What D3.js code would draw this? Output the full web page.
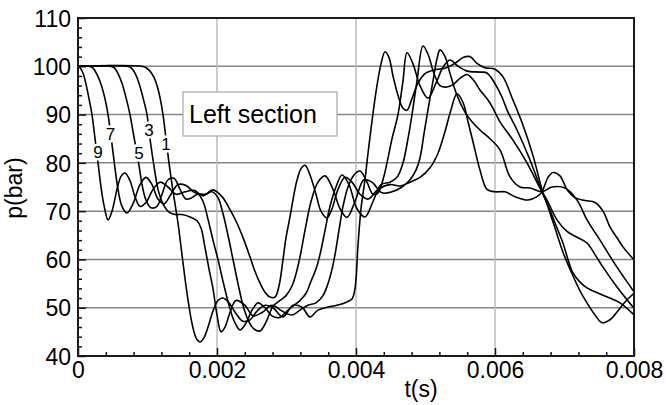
<!DOCTYPE html>
<html><head><meta charset="utf-8">
<script src="https://cdn.jsdelivr.net/npm/d3@7"></script>
<style>body{margin:0;background:#fff}svg{display:block}text{font-family:"Liberation Sans",Arial,sans-serif}</style>
</head><body><svg id="c" width="666" height="405"></svg>
<script>
// ---- data (t in seconds, p in bar) ----
const t9=[0,0.000029,0.000072,0.000115,0.000158,0.000201,0.000245,0.000288,0.000331,0.000374,0.000432,0.000489,0.000561,0.000619,0.000676,0.000748,0.000820,0.000892,0.000978,0.001079,0.001180,0.001295,0.001410,0.001540,0.001669,0.001799,0.001942,0.002072,0.002187,0.002288,0.002388,0.002475,0.002547,0.002619,0.002691,0.002763,0.002835,0.002892,0.002950,0.002993,0.003050,0.003108,0.003151,0.003209,0.003266,0.003338,0.003424,0.003496,0.003583,0.003655,0.003741,0.003842,0.003942,0.004058,0.004173,0.004317,0.004489,0.004633,0.004777,0.004921,0.005065,0.005180,0.005281,0.005367,0.005453,0.005540,0.005612,0.005698,0.005784,0.005885,0.006000,0.006144,0.006288,0.006475,0.006604,0.006676,0.006763,0.006835,0.006935,0.007036,0.007151,0.007295,0.007439,0.007554,0.007655,0.007755,0.007842,0.008000];
const p9=[100,99.7,98.6,96.3,93.3,90,85,80,75,71.2,68.2,70,74.5,77.2,77.9,76.3,73,71,71.8,74.5,76,75,73.5,74,74.3,73.2,74.4,73,70.3,67.5,64,60.5,57.5,55.1,53.2,52.2,52.2,54.5,60,64.5,68.8,73.5,76.4,78.8,79.5,77.5,73.5,70,68.6,70.5,74.5,77,76,73.5,72.5,74.5,75.5,75.2,76,77,79,82,86.5,91,94.3,92.5,88.5,83.5,78.5,74.5,74,74,73,72.3,73,74,77,78,77.3,74.5,72.8,72.2,71.8,70,66.7,64.5,62.6,59.9];

const t7=[0,0.000158,0.000216,0.000273,0.000331,0.000388,0.000432,0.000475,0.000518,0.000576,0.000633,0.000705,0.000791,0.000892,0.000978,0.001065,0.001151,0.001237,0.001338,0.001439,0.001554,0.001683,0.001827,0.001928,0.002014,0.002086,0.002158,0.002230,0.002302,0.002374,0.002446,0.002532,0.002619,0.002705,0.002806,0.002906,0.002993,0.003079,0.003137,0.003194,0.003266,0.003353,0.003453,0.003554,0.003669,0.003770,0.003871,0.003986,0.004115,0.004230,0.004374,0.004518,0.004662,0.004777,0.004863,0.004921,0.004978,0.005036,0.005108,0.005165,0.005209,0.005281,0.005353,0.005453,0.005568,0.005669,0.005784,0.005928,0.006072,0.006216,0.006360,0.006504,0.006676,0.006820,0.007007,0.007180,0.007324,0.007511,0.007755,0.008000];
const p7=[100,100,99.6,98.3,96.3,93.3,90,85.5,80.5,74.5,71,69.6,71.5,75.5,77,75.5,72.5,71.5,73.5,75.5,75.3,73.8,73.5,74,72.8,69.5,65,60,55,50.5,47.5,45.6,45.2,47,50.3,51.5,52.5,54.5,57,60.5,66,72,76,77.3,74.5,70.5,68.7,72,76.5,76,73.8,74,75,76.5,78.5,81,86,91,97,101.5,103.4,102,98.5,94,90.5,88.5,86.8,85,82.7,77.1,75,74.8,74,75,74.8,72.3,68.2,64,58.4,53.3];

const t5=[0,0.000460,0.000518,0.000576,0.000633,0.000691,0.000748,0.000791,0.000835,0.000878,0.000921,0.000978,0.001050,0.001137,0.001209,0.001295,0.001381,0.001468,0.001554,0.001640,0.001727,0.001799,0.001871,0.001942,0.002014,0.002086,0.002173,0.002245,0.002331,0.002417,0.002504,0.002590,0.002691,0.002791,0.002906,0.003007,0.003108,0.003194,0.003281,0.003353,0.003424,0.003482,0.003554,0.003626,0.003712,0.003799,0.003899,0.004014,0.004129,0.004245,0.004360,0.004489,0.004590,0.004676,0.004748,0.004806,0.004878,0.004964,0.005036,0.005122,0.005209,0.005309,0.005396,0.005496,0.005597,0.005698,0.005784,0.005928,0.006072,0.006259,0.006460,0.006676,0.006748,0.006892,0.007036,0.007180,0.007324,0.007439,0.007554,0.007755,0.008000];
const p5=[100,100,99.7,98.5,96.5,93.5,90,86.5,83,79.5,75.5,72.3,70.7,71,73.5,76.5,76.8,74.5,72.5,72.8,73.5,72,68.3,64,60,55.5,50.5,47.3,45.4,46.8,49.5,51,50,48.3,48,49.3,50.5,51.5,53,55.5,58,61,66,71,75,77.5,75.5,70.5,68.8,72,75.5,76,77,80,85,90,97,104.2,102.5,98.5,96,95.7,96.2,97.5,98.3,97,95.1,92.4,88.5,84.7,80,74,72.3,68.2,65.8,64.6,63.4,61,58.4,54.3,49.9];

const t3=[0,0.000705,0.000763,0.000820,0.000878,0.000935,0.000993,0.001022,0.001065,0.001108,0.001151,0.001223,0.001309,0.001396,0.001496,0.001612,0.001712,0.001770,0.001827,0.001885,0.001942,0.002000,0.002058,0.002115,0.002187,0.002273,0.002403,0.002518,0.002647,0.002791,0.002935,0.003079,0.003194,0.003309,0.003424,0.003525,0.003597,0.003655,0.003698,0.003755,0.003813,0.003885,0.003971,0.004058,0.004158,0.004245,0.004317,0.004388,0.004446,0.004518,0.004604,0.004676,0.004734,0.004820,0.004921,0.005036,0.005151,0.005252,0.005353,0.005468,0.005597,0.005784,0.005885,0.006072,0.006187,0.006317,0.006504,0.006676,0.006791,0.006878,0.006978,0.007050,0.007122,0.007223,0.007324,0.007439,0.007554,0.007799,0.008000];
const p3=[100,100,99.7,98.6,96.5,93.5,90,86.5,82,78,74.5,71.5,69.8,69.3,69.3,68.8,68,66.5,62.5,58,54,48.5,45,46,49,51.5,50.5,48.3,49,50.5,49.3,48.5,49.5,50.5,51,52.5,55,58,61,66,71,75,77.5,78.3,76,73.5,73.8,76.5,80,85,90,97,102.8,100.5,96,93.4,96.5,99.8,101.3,100,99,98.8,98.6,94.5,90.5,86.8,80.6,74,70.2,67,63.4,60,57.2,55.3,54.1,53.3,52.6,51,48.5];

const t1=[0,0.000921,0.000978,0.001036,0.001094,0.001137,0.001180,0.001223,0.001266,0.001309,0.001353,0.001396,0.001439,0.001496,0.001540,0.001583,0.001626,0.001669,0.001712,0.001755,0.001813,0.001871,0.001942,0.002014,0.002086,0.002173,0.002273,0.002374,0.002475,0.002576,0.002691,0.002806,0.002950,0.003094,0.003223,0.003338,0.003453,0.003583,0.003727,0.003871,0.003942,0.003986,0.004029,0.004072,0.004129,0.004173,0.004245,0.004302,0.004360,0.004417,0.004475,0.004532,0.004604,0.004676,0.004734,0.004806,0.004892,0.004993,0.005137,0.005281,0.005424,0.005540,0.005640,0.005741,0.005856,0.006000,0.006115,0.006259,0.006403,0.006547,0.006676,0.006748,0.006863,0.006978,0.007079,0.007223,0.007324,0.007439,0.007540,0.007655,0.007755,0.007871,0.008000];
const p1=[100,100,99.7,99,97.7,96,93.5,90,85,80,75.5,71.5,67.5,61,56,51.6,47.8,45,43.4,42.9,43.8,46,49.3,51.5,52,51,48.8,47.2,47.5,49.3,50.5,50,48.1,50.5,50.1,48.1,49.5,50.1,50.5,51.2,51.8,54,63,70.5,76.5,82,90.3,96,100.5,103,101.8,98,94,91.3,90.9,93.3,96.5,98.5,99.3,99.6,100.6,101.8,102,100.6,99.7,99.4,97.8,93,87.8,81.5,74.5,71.5,66.5,61.5,58,53.5,51,48.5,46.9,47.5,49.1,51.2,53];

const seriesNames=["9","7","5","3","1"];
const seriesT=[t9,t7,t5,t3,t1];
const seriesP=[p9,p7,p5,p3,p1];

const yTickValues=[40,50,60,70,80,90,100,110];
const xTickValues=[0,0.002,0.004,0.006,0.008];
const xTickLabels=["0","0.002","0.004","0.006","0.008"];
const legendText="Left section";
const xTitle="t(s)", yTitle="p(bar)";

// ---- drawing ----
const svg=d3.select("#c");
const L=78,R=634,T=18,B=356;
const x=d3.scaleLinear().domain([0,0.008]).range([L,R]);
const y=d3.scaleLinear().domain([40,110]).range([B,T]);

// grid
svg.append("g").selectAll("line").data(yTickValues.filter(v=>v>40&&v<110)).join("line")
  .attr("x1",L).attr("x2",R).attr("y1",d=>y(d)).attr("y2",d=>y(d))
  .attr("stroke","#858585").attr("stroke-width",1.5);
svg.append("g").selectAll("line").data(xTickValues.filter(v=>v>0&&v<0.008)).join("line")
  .attr("y1",T).attr("y2",B).attr("x1",d=>x(d)).attr("x2",d=>x(d))
  .attr("stroke","#bdbdbd").attr("stroke-width",1.5);

// legend box (under curves? in reference it's over grid only)
svg.append("rect").attr("x",183).attr("y",92).attr("width",154).attr("height",44)
  .attr("fill","#fff").attr("stroke","#a8a8a8").attr("stroke-width",1.2);
svg.append("text").attr("x",189).attr("y",123).attr("font-size",25).attr("fill","#000").text(legendText);

// curves
svg.append("clipPath").attr("id","clip").append("rect").attr("x",L).attr("y",T).attr("width",R-L).attr("height",B-T);
const gC=svg.append("g").attr("clip-path","url(#clip)");
seriesNames.forEach((n,k)=>{
  const ts=seriesT[k], ps=seriesP[k];
  const line=d3.line().x(i=>x(ts[i])).y(i=>y(ps[i])).curve(d3.curveCatmullRom.alpha(0.5));
  gC.append("path").attr("d",line(d3.range(ts.length)))
    .attr("fill","none").attr("stroke","#000").attr("stroke-width",1.6).attr("stroke-linejoin","round");
});

// curve labels (placed on their curves)
const labelPos=[[0.000288,82.2],[0.000468,86.1],[0.000878,82.1],[0.001022,86.9],[0.001266,83.9]];
svg.append("g").selectAll("text").data(seriesNames).join("text")
  .attr("x",(d,i)=>x(labelPos[i][0])).attr("y",(d,i)=>y(labelPos[i][1]))
  .attr("text-anchor","middle").attr("dy","0.36em").attr("font-size",17)
  .attr("fill","#000").attr("stroke","#fff").attr("stroke-width",5).attr("paint-order","stroke")
  .text(d=>d);

// axes
const yAx=svg.append("g").attr("transform",`translate(${L},0)`)
  .call(d3.axisLeft(y).tickValues(yTickValues).tickSize(-8).tickPadding(7).tickFormat(d3.format("d")));
const yMin=svg.append("g").attr("transform",`translate(${L},0)`)
  .call(d3.axisLeft(y).tickValues(d3.range(42,110,2).filter(v=>v%10!==0)).tickSize(-4).tickFormat(""));
const xAx=svg.append("g").attr("transform",`translate(0,${B})`)
  .call(d3.axisBottom(x).tickValues(xTickValues).tickSize(-8).tickPadding(6).tickFormat((d,i)=>xTickLabels[i]));
const xMin=svg.append("g").attr("transform",`translate(0,${B})`)
  .call(d3.axisBottom(x).tickValues(d3.range(1,20).map(i=>i*0.0004).filter((v,i)=>(i+1)%5!==0)).tickSize(-4).tickFormat(""));
[yAx,yMin,xAx,xMin].forEach(g=>{
  g.select(".domain").remove();
  g.selectAll(".tick line").attr("stroke","#111").attr("stroke-width",1.5);
  g.selectAll("text").attr("font-size",23).attr("fill","#000").attr("font-family","Liberation Sans, Arial, sans-serif");
});
yAx.selectAll("text").attr("dy","0.36em");

// frame
svg.append("rect").attr("x",L).attr("y",T).attr("width",R-L).attr("height",B-T)
  .attr("fill","none").attr("stroke","#1a1a1a").attr("stroke-width",2);

// titles
svg.append("text").attr("x",421).attr("y",397).attr("text-anchor","middle").attr("font-size",23).text(xTitle);
svg.append("text").attr("transform","translate(22,188) rotate(-90)").attr("text-anchor","middle").attr("font-size",23).text(yTitle);
</script></body></html>
